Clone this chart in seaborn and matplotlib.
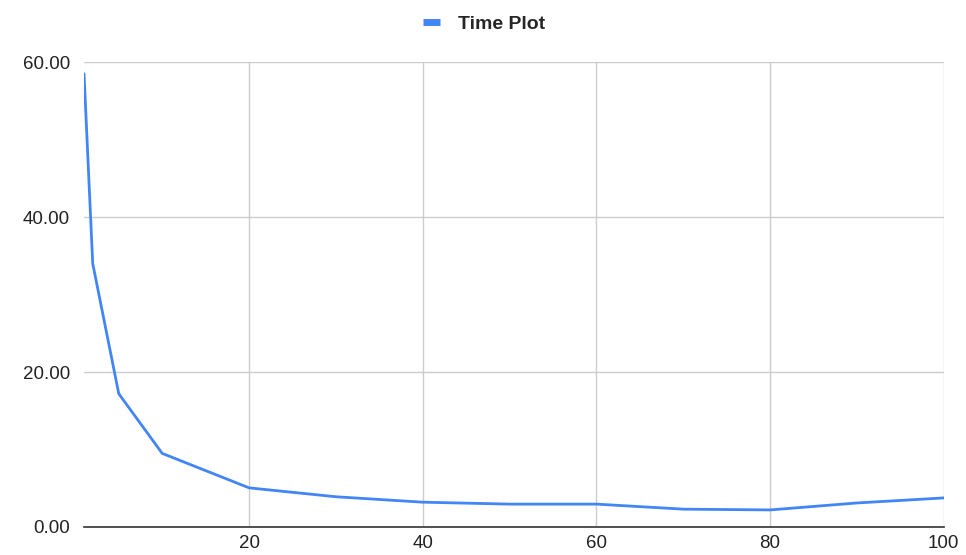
import matplotlib
matplotlib.use("Agg")
import matplotlib.pyplot as plt
import seaborn as sns
import pandas as pd

# data
x_vals = [1, 2, 5, 10, 20, 30, 40, 50, 60, 70, 80, 90, 100]
time_vals = [58.5, 34.0, 17.2, 9.5, 5.05, 3.9, 3.2, 2.95, 2.95, 2.3, 2.2, 3.1, 3.75]
series_name = "Time Plot"

df = pd.DataFrame({"x": x_vals, "time": time_vals})

sns.set_style("white")
plt.rcParams["font.family"] = ["Liberation Sans", "DejaVu Sans"]

fig = plt.figure(figsize=(9.66, 5.55), dpi=100)
ax = fig.add_axes([0.087, 0.0505, 0.890, 0.8375])

sns.lineplot(data=df, x="x", y="time", ax=ax, color="#4285F4",
             linewidth=2.0, label=series_name)

ax.set_xlim(1, 100)
ax.set_ylim(0, 60)
ax.set_xticks([20, 40, 60, 80, 100])
ax.set_yticks([0, 20, 40, 60])
ax.set_yticklabels([f"{v:.2f}" for v in [0, 20, 40, 60]])
ax.grid(True, color="#cccccc", linewidth=1.0)
ax.set_axisbelow(True)
for s in ["left", "top", "right"]:
    ax.spines[s].set_visible(False)
ax.spines["bottom"].set_color("#333333")
ax.spines["bottom"].set_linewidth(1.2)
ax.tick_params(axis="both", length=0, labelsize=13.5, colors="#222222")
ax.tick_params(axis="y", pad=10)
ax.tick_params(axis="x", pad=6)
ax.set_xlabel("")
ax.set_ylabel("")

leg = ax.legend(loc="lower center", bbox_to_anchor=(0.465, 1.025), frameon=False,
                prop={"weight": "bold", "size": 14}, handlelength=0.9,
                handletextpad=0.9)
for h in leg.get_lines():
    h.set_linewidth(5)
    h.set_solid_capstyle("butt")

fig.savefig("out.png", dpi=100)
